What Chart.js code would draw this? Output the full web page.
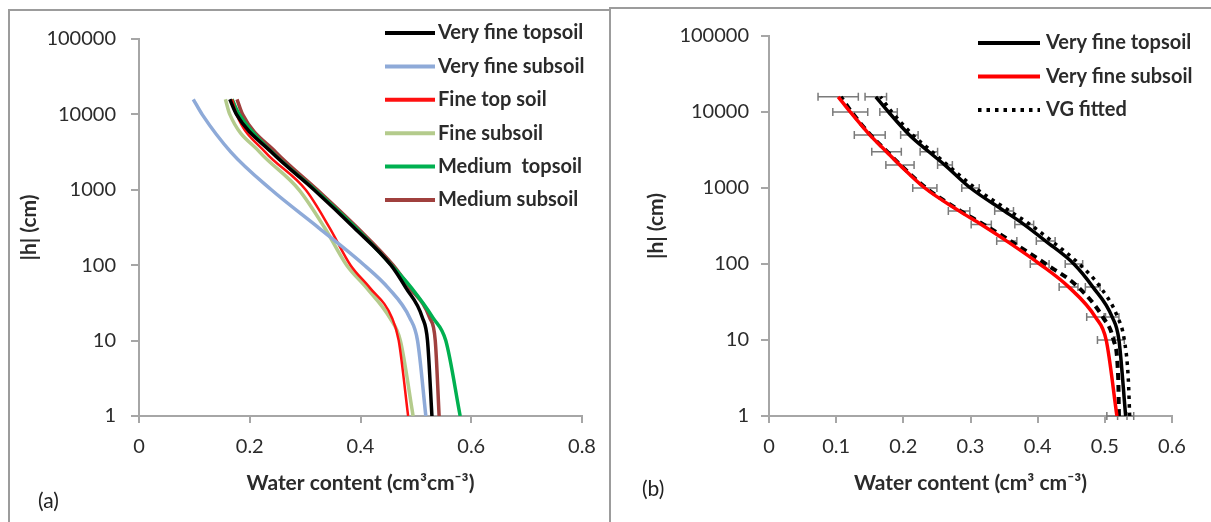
<!DOCTYPE html>
<html>
<head>
<meta charset="utf-8">
<title>Soil water retention curves</title>
<script src="https://cdn.jsdelivr.net/npm/chart.js@4"></script>
<style>
  body { margin: 0; background: #fff; width: 1211px; height: 522px; overflow: hidden; position: relative; font-family: Lato, sans-serif; }
  .panel { position: absolute; border: 2px solid #9c9c9c; box-sizing: border-box; }
  #panelA { left: 8px; top: 9px; width: 603px; height: 540px; }
  #panelB { left: 609px; top: 7px; width: 620px; height: 540px; }
  canvas { position: absolute; }
  #chartA { left: 11px; top: 12px; }
  #chartB { left: 612px; top: 10px; }
  .tag { position: absolute; font: 21px Lato, sans-serif; color: #222; line-height: 26px; }
</style>
</head>
<body>
<div class="panel" id="panelA"></div>
<div class="panel" id="panelB"></div>
<canvas id="chartA" width="597" height="510"></canvas>
<canvas id="chartB" width="599" height="512"></canvas>
<div class="tag" style="left:38px; top:487px;">(a)</div>
<div class="tag" style="left:642px; top:475px;">(b)</div>
<script>
// suction heads |h| in cm
let headsA = [1, 10, 20, 50, 100, 316, 1000, 3162, 10000, 15849];
let veryFineTop = [0.529, 0.521, 0.512, 0.482, 0.455, 0.388, 0.316, 0.239, 0.176, 0.164];
let veryFineSub = [0.518, 0.503, 0.489, 0.450, 0.407, 0.324, 0.239, 0.166, 0.114, 0.098];
let fineTop = [0.486, 0.469, 0.457, 0.417, 0.382, 0.344, 0.301, 0.228, 0.176, 0.168];
let fineSub = [0.495, 0.472, 0.453, 0.411, 0.375, 0.335, 0.289, 0.218, 0.164, 0.156];
let mediumTop = [0.580, 0.554, 0.531, 0.492, 0.456, 0.391, 0.318, 0.240, 0.181, 0.168];
let mediumSub = [0.542, 0.535, 0.525, 0.489, 0.459, 0.394, 0.322, 0.247, 0.187, 0.177];

// panel (b): measured means with spread, and van Genuchten fits
let headsB = [1, 10, 20, 50, 100, 200, 330, 500, 1000, 2000, 3000, 5000, 10000, 15849];
let topMeas = [0.531, 0.521, 0.511, 0.482, 0.454, 0.412, 0.380, 0.350, 0.300, 0.262, 0.238, 0.209, 0.178, 0.159];
let topErr = [0.012, 0.008, 0.010, 0.011, 0.013, 0.014, 0.014, 0.014, 0.013, 0.011, 0.013, 0.013, 0.013, 0.016];
let subMeas = [0.518, 0.502, 0.486, 0.446, 0.403, 0.354, 0.316, 0.283, 0.232, 0.195, 0.175, 0.150, 0.121, 0.103];
let subErr = [0.015, 0.013, 0.013, 0.014, 0.014, 0.015, 0.015, 0.016, 0.018, 0.021, 0.022, 0.023, 0.026, 0.030];
let headsFit = [1, 3, 10, 20, 50, 100, 200, 330, 500, 1000, 2000, 3000, 5000, 10000, 15849];
let topFit = [0.537, 0.535, 0.529, 0.519, 0.493, 0.462, 0.421, 0.389, 0.358, 0.307, 0.266, 0.243, 0.214, 0.183, 0.166];
let subFit = [0.521, 0.520, 0.513, 0.497, 0.460, 0.412, 0.360, 0.320, 0.285, 0.234, 0.196, 0.176, 0.151, 0.123, 0.107];

let hTicks = [1, 10, 100, 1000, 10000, 100000];
let thetaTicksA = [0, 0.2, 0.4, 0.6, 0.8];
let thetaTicksB = [0, 0.1, 0.2, 0.3, 0.4, 0.5, 0.6];

let axisGrey = "#a6a6a6";
let textCol = "#2b2b2b";

function pts(xs, hs) {
    return xs.map((v, i) => ({ x: v, y: hs[i] }));
}

// horizontal error bars, drawn under the curves
let errorBars = {
    id: "errorBars",
    beforeDatasetsDraw(chart) {
        let ctx = chart.ctx;
        let sx = chart.scales.x, sy = chart.scales.y;
        ctx.save();
        ctx.strokeStyle = "#7a7a7a";
        ctx.lineWidth = 1.5;
        chart.data.datasets.forEach(ds => {
            if (!ds.errors) return;
            ds.data.forEach((p, i) => {
                let py = sy.getPixelForValue(p.y);
                let x1 = sx.getPixelForValue(p.x - ds.errors[i]);
                let x2 = sx.getPixelForValue(p.x + ds.errors[i]);
                ctx.beginPath();
                ctx.moveTo(x1, py); ctx.lineTo(x2, py);
                ctx.moveTo(x1, py - 4); ctx.lineTo(x1, py + 4);
                ctx.moveTo(x2, py - 4); ctx.lineTo(x2, py + 4);
                ctx.stroke();
            });
        });
        ctx.restore();
    }
};

// legend drawn inside the plot, top right
let insideLegend = {
    id: "insideLegend",
    afterDraw(chart, args, opts) {
        let ctx = chart.ctx;
        ctx.save();
        ctx.font = "bold 20px Lato";
        ctx.textBaseline = "middle";
        ctx.fillStyle = textCol;
        opts.show.forEach((idx, i) => {
            let ds = chart.data.datasets[idx];
            let y = opts.top + i * opts.step;
            ctx.strokeStyle = ds.borderColor;
            ctx.lineWidth = opts.sampleWidth;
            ctx.setLineDash(ds.borderDash || []);
            ctx.beginPath();
            ctx.moveTo(opts.x0, y);
            ctx.lineTo(opts.x1, y);
            ctx.stroke();
            ctx.fillText(ds.label, opts.textX, y);
        });
        ctx.restore();
    }
};

function scales(xMax, xTicks, yAxisWidth, yPad, yTitlePad, xTitle) {
    return {
        x: {
            type: "linear", min: 0, max: xMax,
            afterBuildTicks: s => { s.ticks = xTicks.map(v => ({ value: v })); },
            afterFit: s => { s.height = 106; },
            border: { color: axisGrey, width: 2 },
            grid: { drawOnChartArea: false, tickLength: 7, color: axisGrey, lineWidth: 2 },
            ticks: { font: { family: "Lato", size: 20 }, color: textCol, padding: 12, maxRotation: 0, callback: v => String(v) },
            title: { display: true, text: xTitle, font: { family: "Lato", size: 21, weight: "bold" }, color: textCol, padding: { top: 0, bottom: 26 } }
        },
        y: {
            type: "logarithmic", min: 1, max: 100000,
            afterBuildTicks: s => { s.ticks = hTicks.map(v => ({ value: v })); },
            afterFit: s => { s.width = yAxisWidth; },
            border: { color: axisGrey, width: 2 },
            grid: { drawOnChartArea: false, tickLength: 8, color: axisGrey, lineWidth: 2 },
            ticks: { font: { family: "Lato", size: 20 }, color: textCol, padding: yPad, callback: v => String(v) },
            title: { display: true, text: "|h| (cm)", font: { family: "Lato", size: 21, weight: "bold" }, color: textCol, padding: { top: yTitlePad, bottom: 0 } }
        }
    };
}

// smooth curves that stay monotone between the measured heads
function line(label, xs, hs, color, extra) {
    return Object.assign({
        label: label,
        data: pts(xs, hs),
        borderColor: color,
        backgroundColor: color,
        borderWidth: 3.5,
        pointRadius: 0,
        showLine: true,
        cubicInterpolationMode: "monotone"
    }, extra || {});
}

let chartA = new Chart(document.getElementById("chartA"), {
    type: "scatter",
    data: {
        datasets: [
            line("Very fine topsoil", veryFineTop, headsA, "#000000"),
            line("Very fine subsoil", veryFineSub, headsA, "#8eaad8"),
            line("Fine top soil", fineTop, headsA, "#ff1010", { borderWidth: 2.5 }),
            line("Fine subsoil", fineSub, headsA, "#b4cb8c"),
            line("Medium  topsoil", mediumTop, headsA, "#00b050"),
            line("Medium subsoil", mediumSub, headsA, "#a0403e")
        ]
    },
    options: {
        responsive: false,
        animation: false,
        layout: { padding: { left: 0, top: 25, right: 26, bottom: 0 } },
        scales: scales(0.8, thetaTicksA, 128, 15, 6, "Water content (cm\u00b3cm\u207b\u00b3)"),
        plugins: {
            legend: { display: false },
            tooltip: { enabled: false },
            insideLegend: { show: [0, 1, 2, 3, 4, 5], top: 21, step: 33.4, x0: 374, x1: 424, textX: 427, sampleWidth: 4 }
        }
    },
    plugins: [insideLegend]
});

let chartB = new Chart(document.getElementById("chartB"), {
    type: "scatter",
    data: {
        datasets: [
            line("Very fine topsoil", topMeas, headsB, "#000000", { errors: topErr, order: 1 }),
            line("Very fine subsoil", subMeas, headsB, "#ff0000", { errors: subErr, order: 0 }),
            line("VG fitted", topFit, headsFit, "#000000", { borderDash: [3.5, 5], borderWidth: 3.5, order: 2 }),
            line("VG fitted subsoil", subFit, headsFit, "#000000", { borderDash: [7, 5], borderWidth: 4, order: 3 })
        ]
    },
    options: {
        responsive: false,
        animation: false,
        layout: { padding: { left: 0, top: 26, right: 39, bottom: 0 } },
        scales: scales(0.6, thetaTicksB, 157, 12, 32, "Water content (cm\u00b3 cm\u207b\u00b3)"),
        plugins: {
            legend: { display: false },
            tooltip: { enabled: false },
            insideLegend: { show: [0, 1, 2], top: 33, step: 33.5, x0: 366, x1: 428, textX: 434, sampleWidth: 4 }
        }
    },
    plugins: [errorBars, insideLegend]
});
</script>
</body>
</html>
